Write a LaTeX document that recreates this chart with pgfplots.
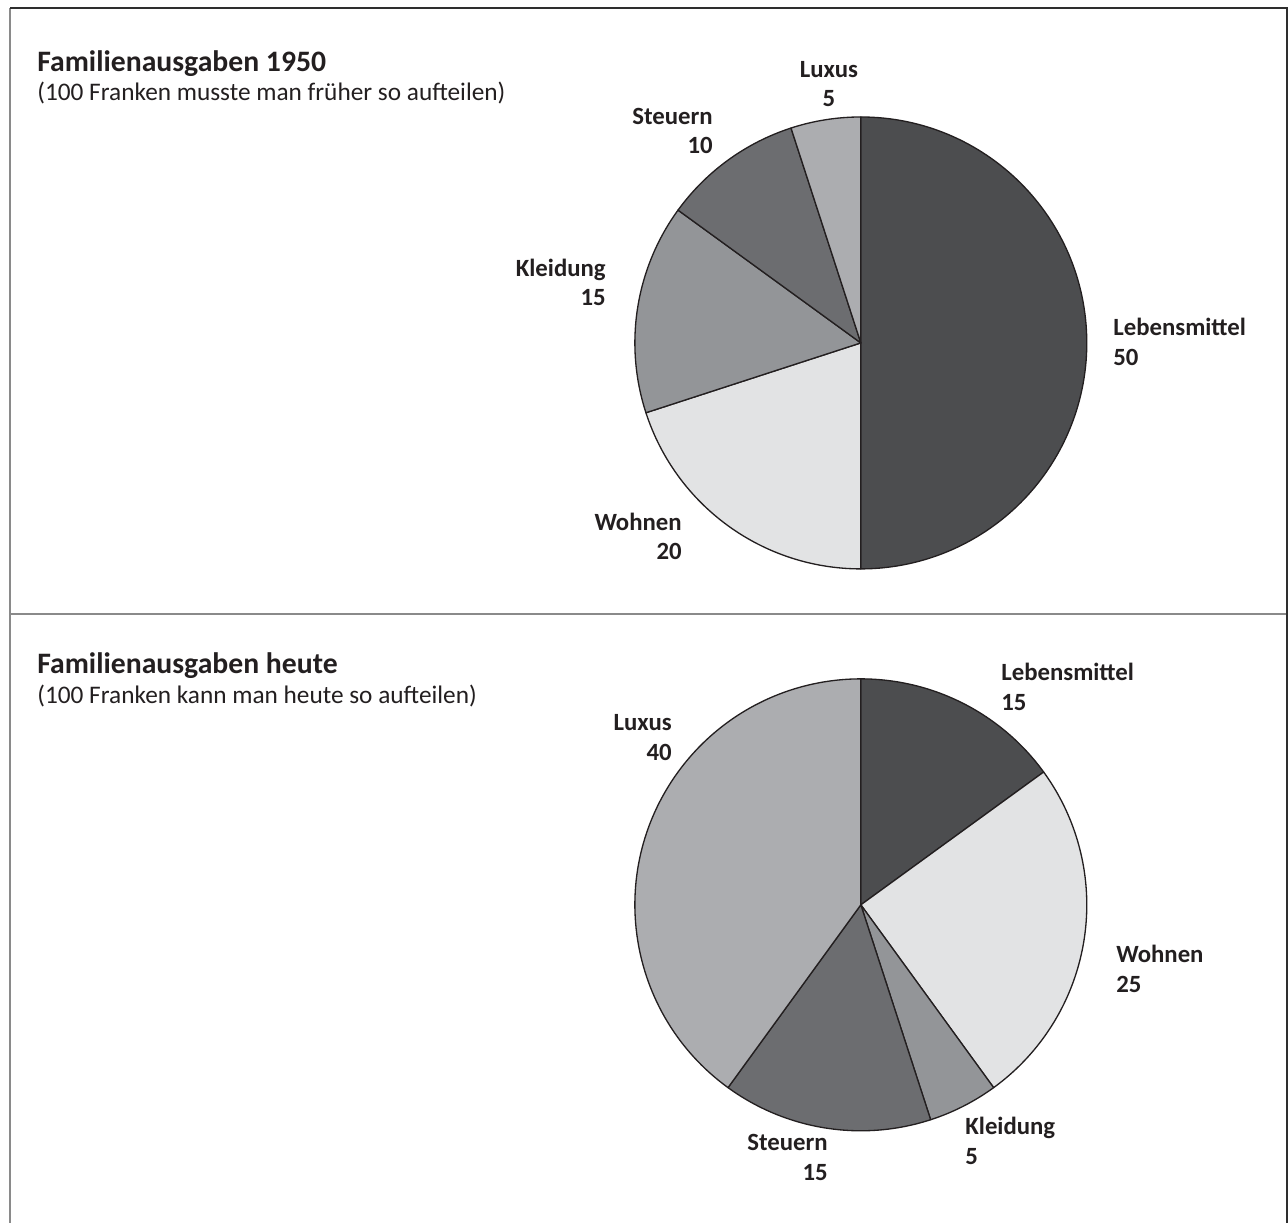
\documentclass[border=0pt]{standalone}
\usepackage{pgfplots}
\pgfplotsset{compat=1.18}
\usepackage{fontspec}
\setmainfont{Carlito}
\definecolor{txt}{HTML}{231F20}
\definecolor{edge}{HTML}{231F20}
\definecolor{cLeb}{HTML}{4C4D4F}
\definecolor{cWoh}{HTML}{E2E3E4}
\definecolor{cKle}{HTML}{939598}
\definecolor{cSte}{HTML}{6C6D70}
\definecolor{cLux}{HTML}{ACADB0}
\definecolor{frameDark}{HTML}{2E2E2E}
\definecolor{frameGray}{HTML}{8A8A8A}
% #1 = sum of the values before this slice, #2 = value, #3 = colour
\newcommand{\slice}[3]{%
  \filldraw[fill=#3, draw=edge, line width=0.75pt, line join=round]
    (axis cs:0,0) -- (axis cs:{cos(90-3.6*#1)},{sin(90-3.6*#1)})
    arc[start angle={90-3.6*#1}, end angle={90-3.6*(#1+#2)}, radius=4.52cm] -- cycle;}
\pgfplotsset{piestyle/.style={anchor=center, x=4.52cm, y=4.52cm,
  xmin=-1, xmax=1, ymin=-1, ymax=1, hide axis, clip=false}}
\newcommand{\lab}{\fontsize{14.1pt}{17pt}\selectfont\bfseries}
\begin{document}
\begin{tikzpicture}
\begin{scope}[x=0.02cm, y=-0.02cm]
  \useasboundingbox (0,0) rectangle (1288,1223);
  \draw[frameGray, line width=1.1pt] (10,8) -- (10,1223);
  \draw[frameGray, line width=1.1pt] (10,614) -- (1287,614);
  \draw[frameDark, line width=1.1pt] (10,8) -- (1287,8) -- (1287,1223);
\end{scope}

% ---------- 1950 ----------
\begin{axis}[piestyle, at={(17.22cm,-6.86cm)}]
  % Lebensmittel 50, Wohnen 20, Kleidung 15, Steuern 10, Luxus 5
  \slice{0}{50}{cLeb}
  \slice{50}{20}{cWoh}
  \slice{70}{15}{cKle}
  \slice{85}{10}{cSte}
  \slice{95}{5}{cLux}
\end{axis}

% ---------- heute ----------
\begin{axis}[piestyle, at={(17.22cm,-18.10cm)}]
  % Lebensmittel 15, Wohnen 25, Kleidung 5, Steuern 15, Luxus 40
  \slice{0}{15}{cLeb}
  \slice{15}{25}{cWoh}
  \slice{40}{5}{cKle}
  \slice{45}{15}{cSte}
  \slice{60}{40}{cLux}
\end{axis}

\begin{scope}[x=0.02cm, y=-0.02cm, every node/.style={inner sep=0pt, text=txt}]
  % titles
  \node[anchor=base west] at (37,72) {\fontsize{16.9pt}{20pt}\selectfont\bfseries Familienausgaben 1950};
  \node[anchor=base west] at (37,101) {\fontsize{14.4pt}{17pt}\selectfont (100 Franken musste man früher so aufteilen)};
  \node[anchor=base west] at (37,673) {\fontsize{16.9pt}{20pt}\selectfont\bfseries Familienausgaben heute};
  \node[anchor=base west] at (37,703) {\fontsize{14.4pt}{17pt}\selectfont (100 Franken kann man heute so aufteilen)};
  % labels 1950
  \node[anchor=base] at (829,78) {\lab Luxus};
  \node[anchor=base] at (829,107) {\lab 5};
  \node[anchor=base east] at (713,125) {\lab Steuern};
  \node[anchor=base east] at (713,154) {\lab 10};
  \node[anchor=base east] at (606,276) {\lab Kleidung};
  \node[anchor=base east] at (606,305) {\lab 15};
  \node[anchor=base east] at (682,530) {\lab Wohnen};
  \node[anchor=base east] at (682,559) {\lab 20};
  \node[anchor=base west] at (1113,336) {\lab Lebensmittel};
  \node[anchor=base west] at (1113,365) {\lab 50};
  % labels heute
  \node[anchor=base west] at (1001,680) {\lab Lebensmittel};
  \node[anchor=base west] at (1001,710) {\lab 15};
  \node[anchor=base east] at (672,730) {\lab Luxus};
  \node[anchor=base east] at (672,760) {\lab 40};
  \node[anchor=base west] at (1116,962) {\lab Wohnen};
  \node[anchor=base west] at (1116,992) {\lab 25};
  \node[anchor=base west] at (965,1134) {\lab Kleidung};
  \node[anchor=base west] at (965,1164) {\lab 5};
  \node[anchor=base east] at (828,1150) {\lab Steuern};
  \node[anchor=base east] at (828,1180) {\lab 15};
\end{scope}
\end{tikzpicture}
\end{document}
